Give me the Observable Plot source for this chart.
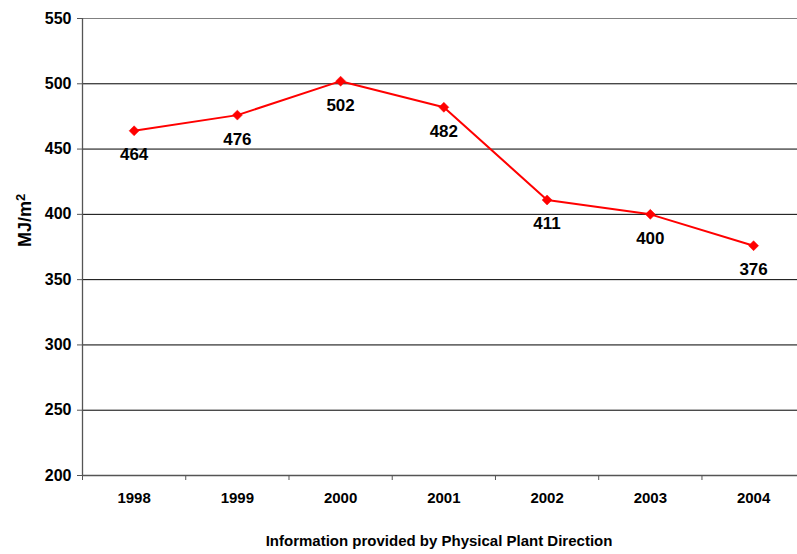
<!DOCTYPE html>
<html>
<head>
<meta charset="utf-8">
<script src="https://cdn.jsdelivr.net/npm/d3@7"></script>
<script src="https://cdn.jsdelivr.net/npm/@observablehq/plot@0.6"></script>
<style>
  html, body { margin: 0; padding: 0; background: #fff; }
  svg { font-family: Arial, "Liberation Sans", sans-serif; display: block; }
</style>
</head>
<body>
<div id="chart"></div>
<script>
const years = [1998, 1999, 2000, 2001, 2002, 2003, 2004];
const values = [464, 476, 502, 482, 411, 400, 376];
const yTicks = [200, 250, 300, 350, 400, 450, 500, 550];
const yLabelBase = "MJ/m";
const yLabelSup = "2";
const caption = "Information provided by Physical Plant Direction";

const data = years.map((year, i) => ({year, value: values[i]}));
const boundaries = [years[0] - 0.5, ...years.map(y => y + 0.5)];

const chart = Plot.plot({
  width: 797,
  height: 554,
  marginLeft: 82,
  marginTop: 18,
  marginBottom: 79,
  marginRight: 0,
  style: {fontFamily: 'Arial, "Liberation Sans", sans-serif', color: "#000", background: "#fff"},
  x: {type: "linear", domain: [years[0] - 0.5, years[years.length - 1] + 0.5], range: [82, 804.7]},
  y: {domain: [200, 550]},
  marks: [
    Plot.ruleY(yTicks.slice(1, -1), {stroke: "#000", strokeWidth: 1}),
    Plot.ruleY([550], {stroke: "#808080", strokeWidth: 1}),
    Plot.ruleY([200], {stroke: "#555", strokeWidth: 1.3}),
    Plot.ruleX([years[0] - 0.5], {stroke: "#555", strokeWidth: 1.3}),
    Plot.axisY({ticks: yTicks, tickSize: 5, tickPadding: 6, fontSize: 16, fontWeight: "bold", stroke: "#555", label: null}),
    Plot.axisX({ticks: boundaries, tickSize: 5, tickFormat: () => "", stroke: "#555", label: null}),
    Plot.axisX({ticks: years, tickSize: 0, tickPadding: 17, tickFormat: d => String(d), fontSize: 15, fontWeight: "bold", label: null}),
    Plot.line(data, {x: "year", y: "value", stroke: "#ff0000", strokeWidth: 2}),
    Plot.dot(data, {x: "year", y: "value", symbol: "diamond2", r: 4.5, fill: "#ff0000", stroke: "#ff0000", strokeWidth: 0.5}),
    Plot.text(data, {x: "year", y: "value", text: d => String(d.value), dy: 24, fontSize: 17, fontWeight: "bold", fill: "#000"}),
    Plot.text([yLabelBase], {frameAnchor: "left", dx: -57, rotate: -90, fontSize: 18, fontWeight: "bold", fill: "#000", className: "ylab"}),
    Plot.text([caption], {frameAnchor: "bottom", dx: -1, dy: 70, fontSize: 15, fontWeight: "bold", fill: "#000"})
  ]
});
// add superscript to y label
const ylab = chart.querySelector(".ylab text");
if (ylab) {
  const sup = document.createElementNS("http://www.w3.org/2000/svg", "tspan");
  sup.setAttribute("dy", "-0.5em");
  sup.setAttribute("font-size", "13");
  sup.textContent = yLabelSup;
  ylab.appendChild(sup);
}
document.getElementById("chart").appendChild(chart);
</script>
</body>
</html>
